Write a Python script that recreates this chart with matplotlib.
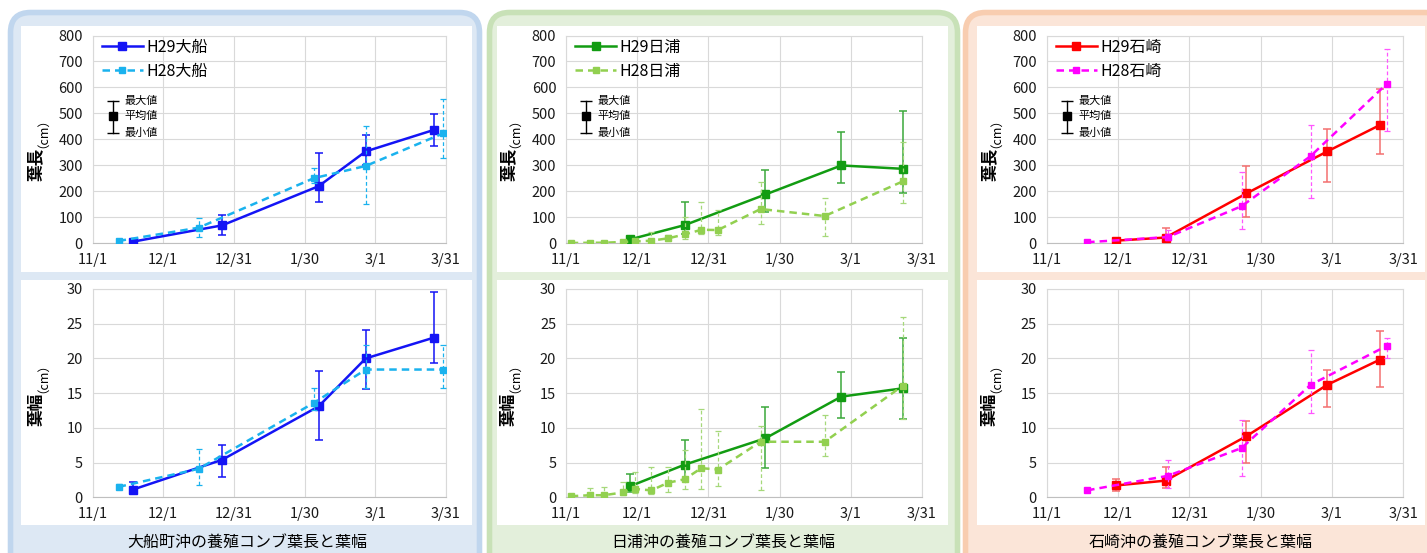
import datetime as dt
import matplotlib
matplotlib.use("Agg")
import matplotlib.pyplot as plt
from matplotlib.patches import FancyBboxPatch, Rectangle

plt.rcParams['font.family'] = ['Noto Sans CJK JP', 'DejaVu Sans']

# ---------------- data ----------------
tick_labels = ["11/1", "12/1", "12/31", "1/30", "3/1", "3/31"]

# 大船
ofunato_h29_dates = ["11/18", "12/26", "2/5", "2/25", "3/26"]
ofunato_h29_len = [5, 68, 219, 353, 436]
ofunato_h29_len_min = [1, 31, 157, 300, 374]
ofunato_h29_len_max = [12, 108, 346, 417, 496]
ofunato_h29_wid = [1.1, 5.4, 13.1, 20.0, 23.0]
ofunato_h29_wid_min = [0.8, 2.9, 8.3, 15.6, 19.4]
ofunato_h29_wid_max = [2.2, 7.5, 18.2, 24.1, 29.6]

ofunato_h28_dates = ["11/12", "12/16", "2/3", "2/25", "3/30"]
ofunato_h28_len = [8, 59, 250, 297, 423]
ofunato_h28_len_min = [3, 22, 230, 150, 327]
ofunato_h28_len_max = [15, 98, 288, 451, 554]
ofunato_h28_wid = [1.5, 4.1, 13.6, 18.4, 18.4]
ofunato_h28_wid_min = [1.2, 1.8, 12.6, 15.7, 15.8]
ofunato_h28_wid_max = [1.9, 6.9, 15.7, 21.9, 21.9]

# 日浦
hiura_h29_dates = ["11/28", "12/21", "1/24", "2/25", "3/23"]
hiura_h29_len = [14, 69, 187, 299, 286]
hiura_h29_len_min = [5, 35, 119, 231, 194]
hiura_h29_len_max = [25, 158, 283, 428, 508]
hiura_h29_wid = [1.6, 4.7, 8.5, 14.5, 15.7]
hiura_h29_wid_min = [0.8, 2.5, 4.2, 11.4, 11.3]
hiura_h29_wid_max = [3.4, 8.2, 13.0, 18.1, 23.0]

hiura_h28_dates = ["11/3", "11/11", "11/17", "11/25", "11/30", "12/7", "12/14",
                   "12/21", "12/28", "1/4", "1/22", "2/18", "3/23"]
hiura_h28_len = [0, 1, 1, 4, 6, 9, 18, 33, 51, 50, 131, 104, 238]
hiura_h28_len_min = [0, 0, 0, 1, 2, 4, 8, 15, 33, 31, 73, 26, 156]
hiura_h28_len_max = [1, 2, 3, 8, 14, 44, 30, 100, 160, 127, 236, 174, 390]
hiura_h28_wid = [0.15, 0.3, 0.3, 0.7, 1.2, 1.0, 2.1, 2.6, 4.2, 4.0, 8.0, 8.0, 16.1]
hiura_h28_wid_min = [0.05, 0.1, 0.1, 0.3, 0.6, 0.5, 0.7, 1.2, 1.2, 1.6, 1.1, 6.0, 11.3]
hiura_h28_wid_max = [0.3, 1.4, 1.5, 2.2, 3.7, 4.4, 4.4, 6.8, 12.7, 9.6, 10.3, 11.8, 25.9]

# 石崎
ishizaki_h29_dates = ["11/30", "12/21", "1/24", "2/27", "3/21"]
ishizaki_h29_len = [9, 21, 191, 353, 454]
ishizaki_h29_len_min = [3, 10, 99, 236, 345]
ishizaki_h29_len_max = [15, 58, 296, 440, 594]
ishizaki_h29_wid = [1.7, 2.4, 8.8, 16.2, 19.8]
ishizaki_h29_wid_min = [0.9, 1.3, 5.0, 13.0, 15.9]
ishizaki_h29_wid_max = [2.6, 4.4, 11.0, 18.4, 23.9]

ishizaki_h28_dates = ["11/18", "12/22", "1/22", "2/20", "3/24"]
ishizaki_h28_len = [3, 23, 142, 335, 613]
ishizaki_h28_len_min = [1, 12, 53, 174, 431]
ishizaki_h28_len_max = [6, 50, 274, 456, 747]
ishizaki_h28_wid = [1.0, 3.1, 7.1, 16.2, 21.8]
ishizaki_h28_wid_min = [0.8, 1.3, 3.1, 12.2, 20.0]
ishizaki_h28_wid_max = [1.2, 5.4, 11.2, 21.2, 23.0]

# ---------------- helpers ----------------
W, H = 1427, 553


def to_days(dates):
    """'MM/DD' -> days since 11/1 of the season"""
    out = []
    for d in dates:
        m, day = map(int, d.split("/"))
        y = 2017 if m >= 11 else 2018
        out.append((dt.date(y, m, day) - dt.date(2017, 11, 1)).days)
    return out


def px_axes(fig, x0, x1, y0, y1):
    return fig.add_axes([x0 / W, 1 - y1 / H, (x1 - x0) / W, (y1 - y0) / H])


def px_inch(x0, y0, x1, y1):
    return x0 / 100, (H - y1) / 100, (x1 - x0) / 100, (y1 - y0) / 100


def draw_series(ax, dates, mean, lo, hi, color, ecolor, dashed):
    x = to_days(dates)
    yerr = [[m - l for m, l in zip(mean, lo)], [h - m for m, h in zip(mean, hi)]]
    if dashed:
        eb = ax.errorbar(x, mean, yerr=yerr, color=color, lw=1.8, marker='s', ms=4.2,
                         capsize=2.5, elinewidth=0.9, capthick=0.9, ecolor=ecolor, zorder=4)
        eb[0].set_linestyle((0, (3, 2)))
        eb[2][0].set_linestyle((0, (3, 2)))
    else:
        eb = ax.errorbar(x, mean, yerr=yerr, color=color, lw=1.8, marker='s', ms=5.8,
                         capsize=3, elinewidth=1.1, capthick=1.1, ecolor=ecolor, zorder=3)
    return eb[0]


def style_axes(ax, ymax, ystep):
    ax.set_xlim(0, 150)
    ax.set_ylim(0, ymax)
    ax.set_xticks(to_days(tick_labels))
    ax.set_xticklabels(tick_labels)
    ax.set_yticks(range(0, ymax + 1, ystep))
    ax.grid(True, color='#d9d9d9', lw=0.8)
    ax.set_axisbelow(True)
    for s in ax.spines.values():
        s.set_color('#d9d9d9')
        s.set_linewidth(0.8)
    ax.spines['bottom'].set_color('#bfbfbf')
    ax.tick_params(length=0, labelsize=10.5, colors='#1a1a1a', pad=7)


def ylabel(ax, main, ypos):
    ax.text(-0.16, ypos, main, rotation=90, ha='center', va='top', fontsize=12,
            fontweight='bold', transform=ax.transAxes)
    ax.text(-0.16, ypos, "（cm）", rotation=90, ha='center', va='bottom', fontsize=9,
            transform=ax.transAxes)


def error_key(ax):
    kx, top, mid, bot = 0.057, 0.686, 0.613, 0.529
    ax.plot([kx, kx], [bot, top], color='k', lw=1, transform=ax.transAxes)
    ax.plot([kx, kx], [bot, top], ls='none', marker='_', ms=8, mew=1, color='k',
            transform=ax.transAxes)
    ax.plot([kx], [mid], marker='s', ms=6, color='k', transform=ax.transAxes)
    for y, t in zip([top, mid, bot], ["最大値", "平均値", "最小値"]):
        ax.text(0.089, y, t, fontsize=8, va='center', ha='left', transform=ax.transAxes)


# ---------------- figure ----------------
fig = plt.figure(figsize=(W / 100, H / 100), dpi=100)
fig.patch.set_facecolor('white')

boxes = [
    (10.5, 479.5, '#dde8f4', '#c0d6ee', (21, 472)),
    (489.5, 957.5, '#e3efdb', '#c8e1b7', (497, 948)),
    (965.5, 1445, '#fbe5d8', '#f8cdb0', (977, 1425)),
]
for bx0, bx1, fill, edge, (wx0, wx1) in boxes:
    x, y, w, h = px_inch(bx0, 12.5, bx1, 590)
    fig.add_artist(FancyBboxPatch((x, y), w, h, boxstyle="round,pad=0,rounding_size=0.2",
                                  transform=fig.dpi_scale_trans, fc=fill, ec=edge, lw=4,
                                  zorder=-3))
    for wy0, wy1 in [(26, 272), (280, 525)]:
        x, y, w, h = px_inch(wx0, wy0, wx1, wy1)
        fig.add_artist(Rectangle((x, y), w, h, transform=fig.dpi_scale_trans,
                                 fc='white', ec='none', zorder=-2))

sites = [
    ("大船", (92.7, 445.7), '#1414f5', '#1414f5', '#1ab2ee', '#1ab2ee',
     (ofunato_h29_dates, ofunato_h29_len, ofunato_h29_len_min, ofunato_h29_len_max,
      ofunato_h29_wid, ofunato_h29_wid_min, ofunato_h29_wid_max),
     (ofunato_h28_dates, ofunato_h28_len, ofunato_h28_len_min, ofunato_h28_len_max,
      ofunato_h28_wid, ofunato_h28_wid_min, ofunato_h28_wid_max),
     "大船町沖の養殖コンブ葉長と葉幅", 247),
    ("日浦", (566, 922), '#129c12', '#3aa83a', '#92d050', '#a6d87a',
     (hiura_h29_dates, hiura_h29_len, hiura_h29_len_min, hiura_h29_len_max,
      hiura_h29_wid, hiura_h29_wid_min, hiura_h29_wid_max),
     (hiura_h28_dates, hiura_h28_len, hiura_h28_len_min, hiura_h28_len_max,
      hiura_h28_wid, hiura_h28_wid_min, hiura_h28_wid_max),
     "日浦沖の養殖コンブ葉長と葉幅", 723),
    ("石崎", (1046.7, 1403.3), '#ff0000', '#f47070', '#ff00ff', '#ff55ff',
     (ishizaki_h29_dates, ishizaki_h29_len, ishizaki_h29_len_min, ishizaki_h29_len_max,
      ishizaki_h29_wid, ishizaki_h29_wid_min, ishizaki_h29_wid_max),
     (ishizaki_h28_dates, ishizaki_h28_len, ishizaki_h28_len_min, ishizaki_h28_len_max,
      ishizaki_h28_wid, ishizaki_h28_wid_min, ishizaki_h28_wid_max),
     "石崎沖の養殖コンブ葉長と葉幅", 1201),
]

for name, (x0, x1), c29, e29, c28, e28, d29, d28, title, tx in sites:
    ax_len = px_axes(fig, x0, x1, 35.5, 243)
    ax_wid = px_axes(fig, x0, x1, 289, 497.3)
    style_axes(ax_len, 800, 100)
    style_axes(ax_wid, 30, 5)

    h29 = draw_series(ax_len, d29[0], d29[1], d29[2], d29[3], c29, e29, False)
    h28 = draw_series(ax_len, d28[0], d28[1], d28[2], d28[3], c28, e28, True)
    draw_series(ax_wid, d29[0], d29[4], d29[5], d29[6], c29, e29, False)
    draw_series(ax_wid, d28[0], d28[4], d28[5], d28[6], c28, e28, True)

    ax_len.legend([h29, h28], ["H29" + name, "H28" + name], loc='upper left',
                  bbox_to_anchor=(0.025, 0.985), frameon=False, fontsize=11.5,
                  handlelength=2.6, handletextpad=0.2, labelspacing=0.45,
                  borderaxespad=0, borderpad=0, numpoints=1)
    error_key(ax_len)
    ylabel(ax_len, "葉長", 0.46)
    ylabel(ax_wid, "葉幅", 0.50)

    fig.text(tx / W, 1 - 542 / H, title, ha='center', va='center', fontsize=11.5)

fig.savefig("out.png", dpi=100)
